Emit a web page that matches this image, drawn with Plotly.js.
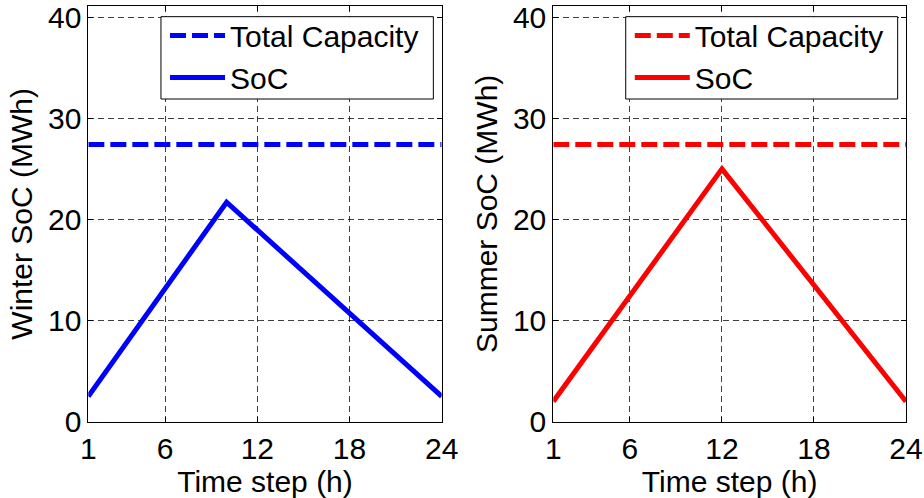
<!DOCTYPE html>
<html>
<head>
<meta charset="utf-8">
<script src="https://cdn.plot.ly/plotly-3.0.1.min.js"></script>
<style>html,body{margin:0;padding:0;background:#fff;}#chart{width:924px;height:498px;}</style>
</head>
<body>
<div id="chart"></div>
<script>
// Data
var hourSpan = [1, 24];
var winterCapacity = [27.4, 27.4];
var summerCapacity = [27.4, 27.4];
var winterHours = [1, 10, 24];
var winterSoC = [2.5, 21.7, 2.5];
var summerHours = [1, 12, 24];
var summerSoC = [2.0, 25.0, 2.0];
var xTicks = [1, 6, 12, 18, 24];
var yTicks = [0, 10, 20, 30, 40];

var FONT = 'Liberation Sans, Arial, Helvetica, sans-serif';
var FS = 30;

var traces = [
  {x: hourSpan, y: winterCapacity, mode: 'lines', name: 'Total Capacity',
   line: {color: '#0000ff', width: 5, dash: '16px,6px'}, xaxis: 'x', yaxis: 'y', legend: 'legend'},
  {x: winterHours, y: winterSoC, mode: 'lines', name: 'SoC',
   line: {color: '#0000ff', width: 5}, xaxis: 'x', yaxis: 'y', legend: 'legend'},
  {x: hourSpan, y: summerCapacity, mode: 'lines', name: 'Total Capacity',
   line: {color: '#ff0000', width: 5, dash: '16px,6px'}, xaxis: 'x2', yaxis: 'y2', legend: 'legend2'},
  {x: summerHours, y: summerSoC, mode: 'lines', name: 'SoC',
   line: {color: '#ff0000', width: 5}, xaxis: 'x2', yaxis: 'y2', legend: 'legend2'}
];

function xa(domain, anchor) {
  return {
    domain: domain, anchor: anchor, range: [1, 24], tickvals: xTicks, ticktext: xTicks.map(String),
    showline: true, linecolor: '#000', linewidth: 1, mirror: 'ticks',
    ticks: 'inside', ticklen: 5, tickcolor: '#000', tickwidth: 1,
    showgrid: true, gridcolor: 'rgba(0,0,0,0.75)', gridwidth: 1, griddash: '6px,4px',
    zeroline: false, tickfont: {family: FONT, size: FS, color: '#000'},
    title: {text: 'Time step (h)', font: {family: FONT, size: FS, color: '#000'}, standoff: 0},
    automargin: false, fixedrange: true
  };
}
function ya(domain, anchor, label) {
  return {
    domain: domain, anchor: anchor, range: [0, 41.1], tickvals: yTicks, ticktext: yTicks.map(String),
    showline: true, linecolor: '#000', linewidth: 1, mirror: 'ticks',
    ticks: 'inside', ticklen: 5, tickcolor: '#000', tickwidth: 1,
    showgrid: true, gridcolor: 'rgba(0,0,0,0.75)', gridwidth: 1, griddash: '6px,4px',
    zeroline: false, tickfont: {family: FONT, size: FS, color: '#000'},
    title: {text: label, font: {family: FONT, size: FS, color: '#000'}, standoff: 6},
    automargin: false, fixedrange: true
  };
}

var legendStyle = function (x) {
  return {
    x: x, y: 0.981, xanchor: 'left', yanchor: 'top',
    bgcolor: 'rgba(0,0,0,0)', borderwidth: 0,
    font: {family: FONT, size: FS, color: '#000'},
    itemwidth: 55, tracegroupgap: 0
  };
};

function legendBox(x0, x1) {
  return {type: 'rect', xref: 'paper', yref: 'paper', x0: x0, x1: x1, y0: 0.8012, y1: 0.9665,
          fillcolor: '#fff', line: {color: '#000', width: 1}, layer: 'above'};
}

var layout = {
  width: 924, height: 498,
  margin: {l: 0, r: 0, t: 0, b: 0},
  paper_bgcolor: '#fff', plot_bgcolor: '#fff',
  showlegend: true,
  xaxis: xa([0.0956, 0.478], 'y'),
  yaxis: ya([0.1532, 0.988], 'x', 'Winter SoC (MWh)'),
  xaxis2: xa([0.5988, 0.9805], 'y2'),
  yaxis2: ya([0.1532, 0.988], 'x2', 'Summer SoC (MWh)'),
  legend: legendStyle(0.1786),
  legend2: legendStyle(0.6816),
  shapes: [legendBox(0.1742, 0.469), legendBox(0.6772, 0.9715)],
  hovermode: false
};

Plotly.newPlot('chart', traces, layout, {displayModeBar: false, staticPlot: true});
</script>
</body>
</html>
